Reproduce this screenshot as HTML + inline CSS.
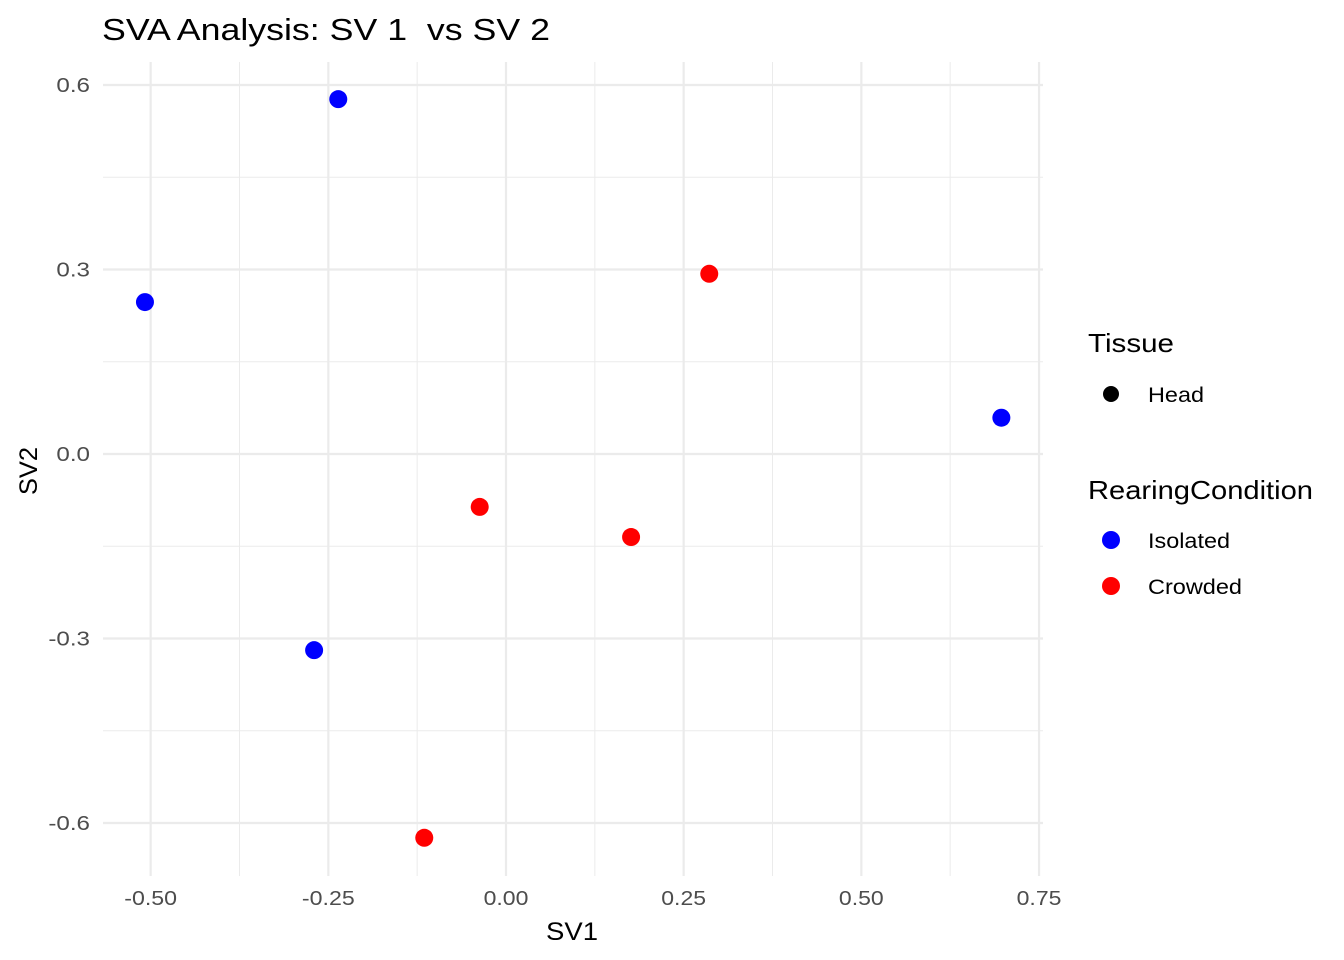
<!DOCTYPE html>
<html><head><meta charset="utf-8"><style>
html,body{margin:0;padding:0;background:#fff;}
svg{display:block;font-family:"Liberation Sans",Arial,sans-serif;}
</style></head><body>
<svg id="chart" width="1344" height="960">
<text x="102" y="40" font-size="31" fill="#000" textLength="448" lengthAdjust="spacingAndGlyphs" style="white-space:pre" xml:space="preserve">SVA Analysis: SV 1  vs SV 2</text>
<g id="grid"></g>
<g id="ticks"></g>
<g id="points"></g>
<text x="546" y="940" font-size="25" textLength="52" lengthAdjust="spacingAndGlyphs">SV1</text>
<text transform="translate(37,495) rotate(-90)" font-size="25" textLength="48" lengthAdjust="spacingAndGlyphs">SV2</text>
<g>
<text x="1088" y="352" font-size="26" textLength="86" lengthAdjust="spacingAndGlyphs">Tissue</text>
<circle cx="1111" cy="394" r="8" fill="#000"/>
<text x="1148" y="402" font-size="21" textLength="56" lengthAdjust="spacingAndGlyphs">Head</text>
<text x="1088" y="499" font-size="26" textLength="225" lengthAdjust="spacingAndGlyphs">RearingCondition</text>
<circle cx="1111" cy="540" r="9" fill="#0000ff"/>
<text x="1148" y="548" font-size="21" textLength="82" lengthAdjust="spacingAndGlyphs">Isolated</text>
<circle cx="1111" cy="586" r="9" fill="#ff0000"/>
<text x="1148" y="594" font-size="21" textLength="94" lengthAdjust="spacingAndGlyphs">Crowded</text>
</g>
</svg>
<script>
const sv1 = [-0.508, -0.236, -0.270, 0.697, 0.286, -0.037, 0.176, -0.115];
const sv2 = [0.247, 0.577, -0.319, 0.059, 0.293, -0.086, -0.135, -0.624];
const group = ["Isolated","Isolated","Isolated","Isolated","Crowded","Crowded","Crowded","Crowded"];
const xTicks = [-0.5, -0.25, 0, 0.25, 0.5, 0.75];
const xTickLabels = ["-0.50","-0.25","0.00","0.25","0.50","0.75"];
const yTicks = [0.6, 0.3, 0, -0.3, -0.6];
const yTickLabels = ["0.6","0.3","0.0","-0.3","-0.6"];

const NS="http://www.w3.org/2000/svg";
const xs=v=>506+v*710.7, ys=v=>454-v*615;
const L=103,R=1043,T=62,B=876;
function mk(t,a,p){const e=document.createElementNS(NS,t);for(const k in a)e.setAttribute(k,a[k]);p.appendChild(e);return e;}
const grid=document.getElementById('grid'), ticks=document.getElementById('ticks'), pts=document.getElementById('points');
for(let i=0;i<xTicks.length-1;i++){const v=(xTicks[i]+xTicks[i+1])/2;
 const l=mk('line',{x1:xs(v),x2:xs(v),y1:T,y2:B,stroke:'#ebebeb','stroke-width':1},grid);
 
 }
for(let i=0;i<yTicks.length-1;i++){const v=(yTicks[i]+yTicks[i+1])/2;
 const l=mk('line',{y1:ys(v),y2:ys(v),x1:L,x2:R,stroke:'#ebebeb','stroke-width':1},grid);
 
 }
const cw=11.2; // approx char width for tick labels
xTicks.forEach((v,i)=>{
 const l=mk('line',{x1:xs(v),x2:xs(v),y1:T,y2:B,stroke:'#ebebeb','stroke-width':2.2},grid);
 
 
 const s=xTickLabels[i];
 const t=mk('text',{x:xs(v),y:905,'font-size':20,'text-anchor':'middle',fill:'#4d4d4d',textLength:(s.replace('-','').length*cw+(s[0]==='-'?8:0)).toFixed(1),lengthAdjust:'spacingAndGlyphs'},ticks);
 t.textContent=s;
 
 });
yTicks.forEach((v,i)=>{
 const l=mk('line',{y1:ys(v),y2:ys(v),x1:L,x2:R,stroke:'#ebebeb','stroke-width':2.2},grid);
 
 
 const s=yTickLabels[i];
 const t=mk('text',{x:90,y:ys(v)+7,'font-size':20,'text-anchor':'end',fill:'#4d4d4d',textLength:(s.replace('-','').length*cw+(s[0]==='-'?8:0)).toFixed(1),lengthAdjust:'spacingAndGlyphs'},ticks);
 t.textContent=s;
 
 });
sv1.forEach((v,i)=>{
 const c=mk('circle',{cx:xs(v),cy:ys(sv2[i]),r:9,fill:group[i]==='Isolated'?'#0000ff':'#ff0000'},pts);
 
 });
</script>
</body></html>
